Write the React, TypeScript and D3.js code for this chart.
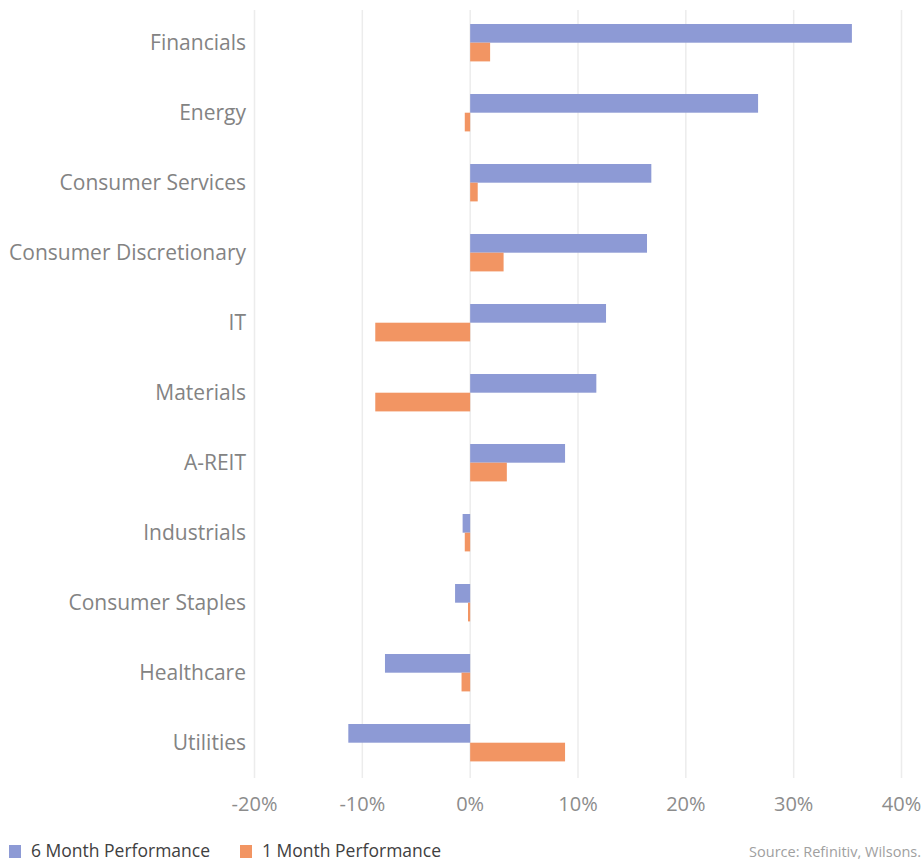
import React, { useRef, useEffect } from "react";
import * as d3 from "d3";

const categories = [
  "Financials",
  "Energy",
  "Consumer Services",
  "Consumer Discretionary",
  "IT",
  "Materials",
  "A-REIT",
  "Industrials",
  "Consumer Staples",
  "Healthcare",
  "Utilities",
];
const sixMonth = [35.4, 26.7, 16.8, 16.4, 12.6, 11.7, 8.8, -0.7, -1.4, -7.9, -11.3];
const oneMonth = [1.85, -0.5, 0.7, 3.1, -8.8, -8.8, 3.4, -0.5, -0.2, -0.8, 8.8];
const seriesNames = ["6 Month Performance", "1 Month Performance"];
const seriesColors = ["#8d9ad5", "#f29563"];
const xTicks = [-20, -10, 0, 10, 20, 30, 40];

const W = 924;
const H = 861;
const FONT = "'Open Sans', 'Noto Sans', sans-serif";

const App = () => {
  const ref = useRef(null);

  useEffect(() => {
    const svg = d3.select(ref.current);
    svg.selectAll("*").remove();

    const x = d3.scaleLinear().domain([-20, 40]).range([254.5, 901.5]);
    const y = d3.scaleBand().domain(categories).range([8, 778]);
    const sub = d3
      .scaleBand()
      .domain(seriesNames)
      .range([16, 53.4]);

    // gridlines
    svg
      .append("g")
      .selectAll("line")
      .data(xTicks)
      .join("line")
      .attr("x1", (d) => x(d))
      .attr("x2", (d) => x(d))
      .attr("y1", 10)
      .attr("y2", 778)
      .attr("stroke", "#ececec")
      .attr("stroke-width", 1.5);

    // tick labels
    svg
      .append("g")
      .selectAll("text")
      .data(xTicks)
      .join("text")
      .attr("x", (d) => x(d))
      .attr("y", 811)
      .attr("text-anchor", "middle")
      .attr("font-family", FONT)
      .attr("font-size", 20)
      .attr("fill", "#8c8c8c")
      .text((d) => `${d}%`);

    // category labels
    svg
      .append("g")
      .selectAll("text")
      .data(categories)
      .join("text")
      .attr("x", 246)
      .attr("y", (d) => y(d) + y.bandwidth() / 2 + 6.5)
      .attr("text-anchor", "end")
      .attr("font-family", FONT)
      .attr("font-size", 21)
      .attr("fill", "#838383")
      .text((d) => d);

    const series = [sixMonth, oneMonth];
    series.forEach((vals, si) => {
      svg
        .append("g")
        .selectAll("rect")
        .data(vals)
        .join("rect")
        .attr("x", (d) => x(Math.min(0, d)))
        .attr("width", (d) => Math.abs(x(d) - x(0)))
        .attr("y", (d, i) => y(categories[i]) + sub(seriesNames[si]))
        .attr("height", sub.bandwidth())
        .attr("fill", seriesColors[si]);
    });

    // legend
    const legendX = [9, 240];
    const lg = svg.append("g");
    seriesNames.forEach((name, i) => {
      lg.append("rect")
        .attr("x", legendX[i])
        .attr("y", 845)
        .attr("width", 12)
        .attr("height", 13)
        .attr("fill", seriesColors[i]);
      lg.append("text")
        .attr("x", legendX[i] + 22)
        .attr("y", 857)
        .attr("font-family", FONT)
        .attr("font-size", 17.5)
        .attr("fill", "#404040")
        .text(name);
    });

    svg
      .append("text")
      .attr("x", 921)
      .attr("y", 857)
      .attr("text-anchor", "end")
      .attr("font-family", FONT)
      .attr("font-size", 14.5)
      .attr("fill", "#a0a0a0")
      .text("Source: Refinitiv, Wilsons.");
  }, []);

  return (
    <svg
      ref={ref}
      width={W}
      height={H}
      style={{ position: "absolute", left: 0, top: 0, background: "#fff" }}
    />
  );
};

export default App;
